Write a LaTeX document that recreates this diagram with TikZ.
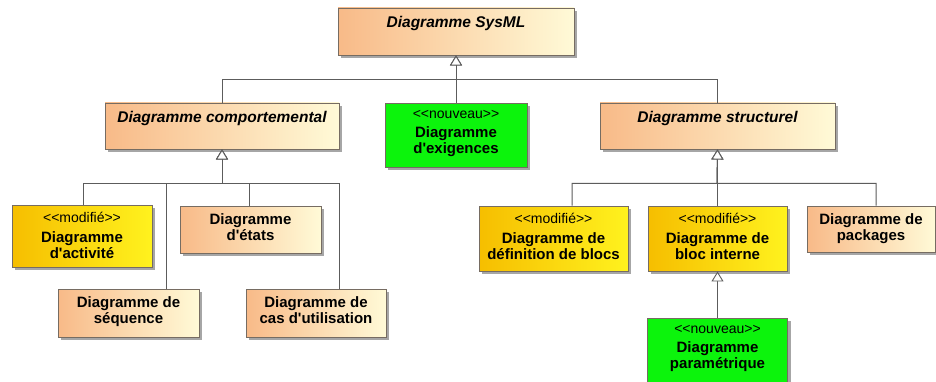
\documentclass[tikz,border=0pt]{standalone}
\usepackage{fontspec}
\setmainfont{Liberation Sans}[Ligatures=TeXOff]
\usetikzlibrary{arrows.meta,shadows}

\definecolor{peachL}{RGB}{248,186,136}
\definecolor{peachR}{RGB}{255,250,215}
\definecolor{goldL}{RGB}{246,190,0}
\definecolor{goldR}{RGB}{255,242,30}
\definecolor{newgreen}{RGB}{12,244,12}
\definecolor{edge}{RGB}{118,108,98}
\definecolor{wire}{RGB}{92,92,92}

\tikzset{
  box/.style={draw=edge, line width=0.9pt, rectangle, inner sep=0pt,
    drop shadow={shadow xshift=3pt, shadow yshift=-3pt, fill=black!35, opacity=1}},
  plainbox/.style={box, left color=peachL, right color=peachR},
  changedbox/.style={box, left color=goldL, right color=goldR},
  newbox/.style={box, fill=newgreen},
  caption/.style={anchor=north, inner sep=0pt, align=center, yshift=-7.5pt,
    font=\fontsize{15}{16}\selectfont\bfseries},
  titlecap/.style={anchor=north, inner sep=0pt, yshift=-8.5pt,
    font=\fontsize{15.5}{17}\selectfont\bfseries\itshape},
  gen/.style={draw=wire, line width=1pt,
    -{Triangle[length=10pt,width=12pt,fill=white,line width=0.9pt]}},
}
% stereotype line above a box caption
\newcommand\stereo[1]{{\fontsize{14}{16}\mdseries\selectfont <{}<#1>{}>}\\[3.5pt]}

\begin{document}
\begin{tikzpicture}[x=1pt,y=-1pt]
\clip (0,0) rectangle (936,382);
\fill[white] (0,0) rectangle (936,382);

% abstract diagram kinds
\node[plainbox, minimum width=236pt, minimum height=47pt,
  label={[titlecap]north:Diagramme SysML}] (sys) at (456,31.5) {};
\node[plainbox, minimum width=234pt, minimum height=46pt,
  label={[titlecap]north:Diagramme comportemental}] (comp) at (222,126) {};
\node[plainbox, minimum width=235pt, minimum height=46pt,
  label={[titlecap]north:Diagramme structurel}] (struct) at (717.5,126) {};

% requirements
\node[newbox, minimum width=142pt, minimum height=64pt,
  label={[caption]north:{\stereo{nouveau}Diagramme\\d'exigences}}] (exig) at (456,135) {};

% behaviour diagrams
\node[changedbox, minimum width=140pt, minimum height=62pt,
  label={[caption]north:{\stereo{modifié}Diagramme\\d'activité}}] (act) at (82,236) {};
\node[plainbox, minimum width=141pt, minimum height=47pt,
  label={[caption]north:{Diagramme\\d'états}}] (etats) at (250.5,229.5) {};
\node[plainbox, minimum width=141pt, minimum height=48pt,
  label={[caption]north:{Diagramme de\\séquence}}] (seq) at (128.5,313) {};
\node[plainbox, minimum width=140pt, minimum height=48pt,
  label={[caption]north:{Diagramme de\\cas d'utilisation}}] (cas) at (316,313) {};

% structure diagrams
\node[changedbox, minimum width=149pt, minimum height=65pt,
  label={[caption]north:{\stereo{modifié}Diagramme de\\définition de blocs}}] (bdd) at (553.5,238.5) {};
\node[changedbox, minimum width=139pt, minimum height=65pt,
  label={[caption]north:{\stereo{modifié}Diagramme de\\bloc interne}}] (ibd) at (717.5,238.5) {};
\node[plainbox, minimum width=128pt, minimum height=46pt,
  label={[caption]north:{Diagramme de\\packages}}] (pkg) at (871,229) {};
\node[newbox, minimum width=140pt, minimum height=68pt,
  label={[caption]north:{\stereo{nouveau}Diagramme\\paramétrique}}] (par) at (717.5,352) {};

% bus junctions of the generalisation trees
\coordinate (busTop) at (456,79.5);
\coordinate (busB) at (222,183.5);
\coordinate (busS) at (717,183.5);

% generalisations
\draw[gen] (comp.north) |- (busTop) -- (sys.south);
\draw[gen] (struct.north) |- (busTop) -- (sys.south);
\draw[gen] (exig.north) -- (sys.south);

\draw[gen] ([xshift=1pt]act.north) |- (busB) -- (comp.south);
\draw[gen] ([xshift=37.5pt]seq.north) |- (busB) -- (comp.south);
\draw[gen] ([xshift=-1.5pt]etats.north) |- (busB) -- (comp.south);
\draw[gen] ([xshift=23pt]cas.north) |- (busB) -- (comp.south);

\draw[gen] ([xshift=18.5pt]bdd.north) |- (busS) -- (struct.south);
\draw[gen] (ibd.north) -- (struct.south);
\draw[gen] ([xshift=5pt]pkg.north) |- (busS) -- (struct.south);

\draw[gen] (par.north) -- (ibd.south);
\end{tikzpicture}
\end{document}
